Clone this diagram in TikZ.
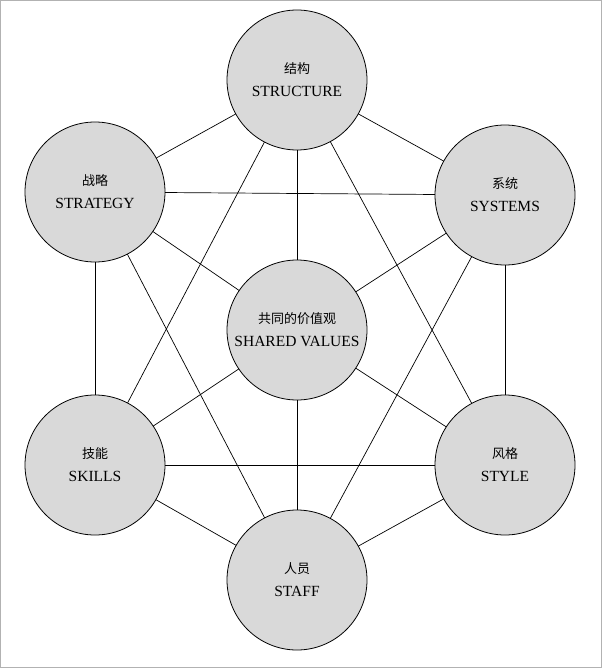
\documentclass[tikz,border=0pt]{standalone}
\usepackage{fontspec}
\setmainfont{Liberation Serif}
\newfontfamily\cjk{Noto Sans CJK SC}
\begin{document}
\begin{tikzpicture}[x=1pt,y=-1pt,
  sbox/.style={circle,draw=black,line width=0.8pt,fill=gray!30,minimum size=140pt,inner sep=0pt,align=center,font=\fontsize{15.5}{23}\selectfont},
  link/.style={draw=black,line width=0.7pt}]
\draw[gray!60,line width=1pt] (0.5,0.5) rectangle (601.5,667.5);
\useasboundingbox (0,0) rectangle (602,668);
\coordinate (a) at (297,80);
\coordinate (b) at (95,192);
\coordinate (c) at (505,195);
\coordinate (d) at (297,330);
\coordinate (e) at (95,465);
\coordinate (f) at (505,465);
\coordinate (g) at (297,580);
\foreach \p/\q in {a/b,a/c,a/d,a/e,a/f,a/g,b/c,b/d,b/e,b/g,c/d,c/f,c/g,d/e,d/f,d/g,e/f,e/g,f/g}
  \draw[link] (\p) -- (\q);
\node[sbox] (n1) at (a) {{\cjk\fontsize{13}{23}\selectfont 结构}\\STRUCTURE};
\node[sbox] (n2) at (b) {{\cjk\fontsize{13}{23}\selectfont 战略}\\STRATEGY};
\node[sbox] (n3) at (c) {{\cjk\fontsize{13}{23}\selectfont 系统}\\SYSTEMS};
\node[sbox] (n4) at (d) {{\cjk\fontsize{13}{23}\selectfont 共同的价值观}\\SHARED VALUES};
\node[sbox] (n5) at (e) {{\cjk\fontsize{13}{23}\selectfont 技能}\\SKILLS};
\node[sbox] (n6) at (f) {{\cjk\fontsize{13}{23}\selectfont 风格}\\STYLE};
\node[sbox] (n7) at (g) {{\cjk\fontsize{13}{23}\selectfont 人员}\\STAFF};
\end{tikzpicture}
\end{document}
